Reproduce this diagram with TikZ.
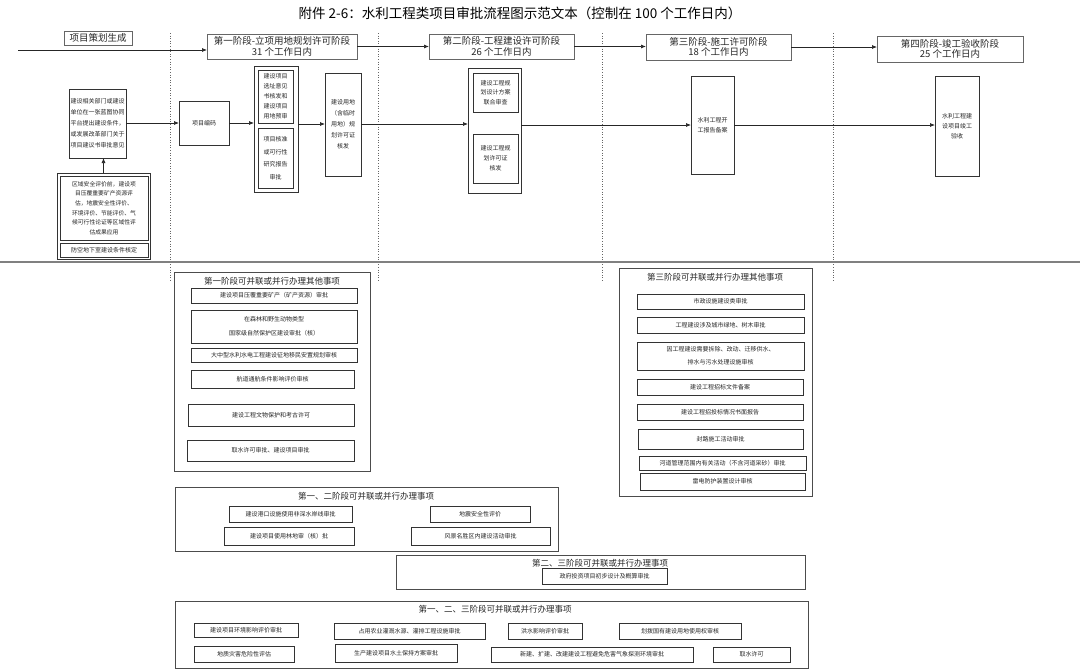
\documentclass[tikz,border=0pt]{standalone}
\usepackage{fontspec}
\setmainfont{Noto Sans CJK SC}
\usetikzlibrary{arrows.meta}
\tikzset{
  bx/.style={draw=black!80, line width=0.6pt, inner sep=0.5pt, outer sep=0pt, align=center, text=black!85, font=\fontsize{6}{9}\selectfont},
  stg/.style={bx, draw=black!60, line width=1pt, font=\fontsize{9.5}{10.5}\selectfont},
  grp/.style={bx, draw=black!70, line width=0.8pt},
  gtitle/.style={font=\fontsize{8.5}{9}\selectfont, text=black!85, inner sep=0pt},
  arr/.style={-{Latex[length=5pt,width=4pt]}, line width=0.7pt, black!85},
  vdot/.style={dotted, line width=0.6pt, black!60},
}
\newcommand\rbox[7][]{\node[bx,#1,minimum width={(#5-#3)*1pt},minimum height={(#6-#4)*1pt}] (#2) at ({(#3+#5)/2},{(#4+#6)/2}) {#7};}
\begin{document}
\begin{tikzpicture}[x=1pt,y=-1pt]
\useasboundingbox (0,0) rectangle (1080,672);
\fill[white] (0,0) rectangle (1080,672);
% title
\node[font=\fontsize{13.5}{14}\selectfont, inner sep=0pt] (title) at (520,13) {附件 2-6：水利工程类项目审批流程图示范文本（控制在 100 个工作日内）};
% dotted stage separators
\draw[vdot] (170,33) -- (170,282);
\draw[vdot] (378,33) -- (378,282);
\draw[vdot] (602,33) -- (602,282);
\draw[vdot] (833,33) -- (833,282);
% separator
\draw[black!50, line width=1.5pt] (0,262) -- (1080,262);
% top row
\rbox[stg]{plan}{64}{31}{132}{45}{项目策划生成}
\rbox[stg]{s1}{207}{34}{357}{59}{第一阶段-立项用地规划许可阶段\\31 个工作日内}
\rbox[stg]{s2}{429}{34}{574}{59}{第二阶段-工程建设许可阶段\\26 个工作日内}
\rbox[stg]{s3}{646}{34}{791}{60}{第三阶段-施工许可阶段\\18 个工作日内}
\rbox[stg]{s4}{877}{36}{1023}{62}{第四阶段-竣工验收阶段\\25 个工作日内}
\coordinate (st) at (18,50);
\draw[arr] (st) -- (st -| s1.west);
\draw[arr] (s1.east) -- (s1.east -| s2.west);
\draw[arr] (s2.east) -- (s2.east -| s3.west);
\draw[arr] (s3.east) -- (s3.east -| s4.west);
% middle row
\rbox[font=\fontsize{6}{11}\selectfont]{L1}{69}{89}{126}{158}{建设相关部门或建设\\单位在一张蓝图协同\\平台提出建设条件，\\或发展改革部门关于\\项目建议书审批意见}
\rbox[line width=0.9pt]{L2}{57}{173}{150}{259}{}
\rbox[font=\fontsize{5.8}{9.6}\selectfont]{L2a}{60}{176}{148}{240}{区域安全评价前，建设项\\目压覆重要矿产资源评\\估，地震安全性评价、\\环境评价、节能评价、气\\候可行性论证等区域性评\\估成果应用}
\rbox{L2b}{60}{243}{148}{257}{防空地下室建设条件核定}
\draw[arr] (L2.north) -- (L2.north |- L1.south);
\rbox{code}{179}{101}{229}{145}{项目编码}
\draw[arr] (L1.east |- code.west) -- (code.west);
\rbox[line width=0.9pt]{P1}{254}{66}{298}{192}{}
\rbox[font=\fontsize{6}{10}\selectfont]{P1a}{258}{70}{293}{123}{建设项目\\选址意见\\书核发和\\建设项目\\用地预审}
\rbox[font=\fontsize{6}{12.5}\selectfont]{P1b}{258}{128}{293}{188}{项目核准\\或可行性\\研究报告\\审批}
\draw[arr] (code.east) -- (code.east -| P1.west);
\rbox[font=\fontsize{6}{11}\selectfont]{R1}{325}{73}{361}{176}{建设用地\\（含临时\\用地）规\\划许可证\\核发}
\draw[arr] (P1.east |- 0,124) -- (R1.west |- 0,124);
\rbox[line width=0.9pt]{P2}{468}{68}{521}{193}{}
\rbox[font=\fontsize{6}{9.5}\selectfont]{P2a}{473}{73}{518}{112}{建设工程规\\划设计方案\\联合审查}
\rbox[font=\fontsize{6}{10}\selectfont]{P2b}{473}{134}{518}{183}{建设工程规\\划许可证\\核发}
\draw[arr] (R1.east |- 0,124) -- (P2.west |- 0,124);
\rbox[font=\fontsize{6}{10}\selectfont]{T3}{691}{76}{734}{174}{水利工程开\\工报告备案}
\draw[arr] (T3.west -| P2.east) -- (T3.west);
\rbox[font=\fontsize{6}{10}\selectfont]{T4}{935}{76}{979}{176}{水利工程建\\设项目竣工\\验收}
\draw[arr] (T3.east) -- (T3.east -| T4.west);
% group 1
\rbox[grp]{G1}{174}{272}{370}{471}{}
\node[gtitle] (G1t) at (272,281) {第一阶段可并联或并行办理其他事项};
\rbox{G1a}{191}{288}{357}{303}{建设项目压覆重要矿产（矿产资源）审批}
\rbox[font=\fontsize{6}{14}\selectfont]{G1b}{191}{310}{357}{343}{在森林和野生动物类型\\国家级自然保护区建设审批（核）}
\rbox{G1c}{191}{348}{357}{362}{大中型水利水电工程建设征地移民安置规划审核}
\rbox{G1d}{191}{370}{354}{388}{航道通航条件影响评价审核}
\rbox{G1e}{188}{404}{354}{426}{建设工程文物保护和考古许可}
\rbox{G1f}{187}{440}{354}{461}{取水许可审批、建设项目审批}
% group 3
\rbox[grp]{G3}{619}{268}{812}{496}{}
\node[gtitle] (G3t) at (715,277) {第三阶段可并联或并行办理其他事项};
\rbox{G3a}{637}{294}{804}{309}{市政设施建设类审批}
\rbox{G3b}{637}{317}{804}{333}{工程建设涉及城市绿地、树木审批}
\rbox[font=\fontsize{6}{13}\selectfont]{G3c}{637}{342}{804}{370}{因工程建设需要拆除、改动、迁移供水、\\排水与污水处理设施审核}
\rbox{G3d}{637}{379}{803}{395}{建设工程招标文件备案}
\rbox{G3e}{637}{404}{803}{420}{建设工程招投标情况书面报告}
\rbox{G3f}{638}{429}{803}{449}{封路施工活动审批}
\rbox{G3g}{639}{456}{806}{470}{河道管理范围内有关活动（不含河道采砂）审批}
\rbox{G3h}{640}{473}{805}{490}{雷电防护装置设计审核}
% group 1-2
\rbox[grp]{G12}{175}{487}{558}{551}{}
\node[gtitle] (G12t) at (366,496) {第一、二阶段可并联或并行办理事项};
\rbox{G12a}{229}{506}{352}{522}{建设港口设施使用非深水岸线审批}
\rbox{G12b}{430}{506}{530}{522}{地震安全性评价}
\rbox{G12c}{224}{527}{354}{545}{建设项目使用林地审（核）批}
\rbox{G12d}{411}{527}{550}{545}{风景名胜区内建设活动审批}
% group 2-3
\rbox[grp]{G23}{396}{555}{805}{589}{}
\node[gtitle] (G23t) at (600,563) {第二、三阶段可并联或并行办理事项};
\rbox{G23a}{542}{568}{667}{584}{政府投资项目初步设计及概算审批}
% group 1-2-3
\rbox[grp]{G123}{175}{601}{808}{668}{}
\node[gtitle] (G123t) at (495,609) {第一、二、三阶段可并联或并行办理事项};
\rbox{Ha}{194}{623}{298}{637}{建设项目环境影响评价审批}
\rbox{Hb}{334}{623}{485}{639}{占用农业灌溉水源、灌排工程设施审批}
\rbox{Hc}{508}{623}{582}{639}{洪水影响评价审批}
\rbox{Hd}{619}{623}{741}{639}{划拨国有建设用地使用权审核}
\rbox{He}{194}{646}{294}{662}{地质灾害危险性评估}
\rbox{Hf}{335}{644}{457}{662}{生产建设项目水土保持方案审批}
\rbox{Hg}{491}{647}{693}{662}{新建、扩建、改建建设工程避免危害气象探测环境审批}
\rbox{Hh}{713}{647}{790}{662}{取水许可}
\end{tikzpicture}
\end{document}
